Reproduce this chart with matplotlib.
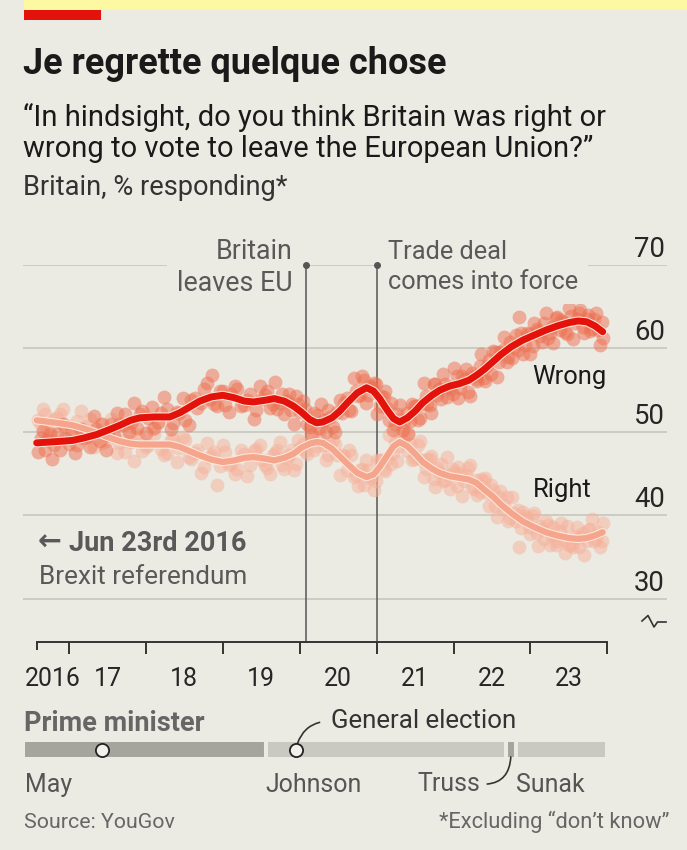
import matplotlib
matplotlib.use('Agg')
import matplotlib.pyplot as plt
from matplotlib import font_manager as fm
from matplotlib import patheffects as pe
from matplotlib.patches import Rectangle
from matplotlib.lines import Line2D
from matplotlib.text import Text

# ---- data (decimal years, % responding) ----
trend_dates = [2016.58, 2016.75, 2016.92, 2017.05, 2017.20, 2017.36, 2017.50, 2017.66, 2017.80, 2017.92,
               2018.10, 2018.31, 2018.44, 2018.57, 2018.70, 2018.85, 2019.00, 2019.15, 2019.28, 2019.40,
               2019.55, 2019.67, 2019.80, 2019.92, 2020.02, 2020.13, 2020.22, 2020.30, 2020.42, 2020.52,
               2020.63, 2020.75, 2020.87, 2020.96, 2021.04, 2021.14, 2021.22, 2021.30, 2021.40, 2021.50,
               2021.60, 2021.72, 2021.82, 2021.95, 2022.08, 2022.20, 2022.30, 2022.40, 2022.51, 2022.62,
               2022.75, 2022.90, 2023.05, 2023.20, 2023.35, 2023.50, 2023.62, 2023.73, 2023.84, 2023.94]
trend_wrong = [48.7, 48.8, 48.9, 49.0, 49.3, 49.7, 50.2, 50.8, 51.4, 51.7,
               51.8, 51.8, 52.3, 53.0, 53.7, 54.2, 54.4, 54.1, 53.7, 53.6,
               53.8, 54.0, 53.7, 53.1, 52.4, 51.5, 51.1, 51.2, 51.7, 52.5,
               53.6, 54.7, 55.3, 54.9, 54.0, 52.6, 51.6, 51.2, 51.7, 52.5,
               53.5, 54.4, 55.0, 55.5, 55.8, 56.2, 56.8, 57.5, 58.4, 59.3,
               60.2, 61.0, 61.6, 62.2, 62.7, 63.1, 63.3, 63.2, 62.7, 62.0]
trend_right = [51.4, 51.2, 51.0, 50.8, 50.4, 49.9, 49.4, 48.9, 48.6, 48.5,
               48.5, 48.5, 48.2, 47.7, 47.2, 46.7, 46.4, 46.6, 46.9, 47.0,
               46.8, 46.6, 46.9, 47.4, 48.1, 48.6, 48.8, 48.7, 48.0, 47.1,
               46.1, 45.1, 44.6, 44.9, 45.8, 47.2, 48.3, 48.8, 48.3, 47.4,
               46.4, 45.6, 45.1, 44.7, 44.5, 44.3, 43.9, 43.1, 42.3, 41.3,
               40.3, 39.3, 38.6, 38.0, 37.6, 37.3, 37.2, 37.3, 37.6, 38.0]

# individual polls, first batch
poll_dates = [2016.60, 2016.66, 2016.72, 2016.78, 2016.85, 2016.92, 2017.00, 2017.08, 2017.15, 2017.24,
              2017.32, 2017.40, 2017.48, 2017.55, 2017.62, 2017.70, 2017.78, 2017.85, 2017.92, 2018.00,
              2018.08, 2018.16, 2018.24, 2018.32, 2018.40, 2018.48, 2018.56, 2018.64, 2018.72, 2018.80,
              2018.86, 2018.93, 2019.00, 2019.08, 2019.16, 2019.24, 2019.32, 2019.40, 2019.48, 2019.55,
              2019.62, 2019.68, 2019.74, 2019.80, 2019.86, 2019.92, 2019.98, 2020.04, 2020.10, 2020.16,
              2020.22, 2020.28, 2020.34, 2020.40, 2020.46, 2020.52, 2020.58, 2020.64, 2020.70, 2020.76,
              2020.81, 2020.86, 2020.91, 2020.96, 2021.01, 2021.06, 2021.11, 2021.16, 2021.21, 2021.26,
              2021.31, 2021.36, 2021.41, 2021.46, 2021.51, 2021.56, 2021.61, 2021.66, 2021.71, 2021.76,
              2021.81, 2021.86, 2021.91, 2021.96, 2022.01, 2022.06, 2022.11, 2022.16, 2022.21, 2022.26,
              2022.31, 2022.36, 2022.41, 2022.46, 2022.51, 2022.56, 2022.61, 2022.66, 2022.71, 2022.76,
              2022.81, 2022.85, 2022.90, 2022.95, 2023.00, 2023.05, 2023.10, 2023.15, 2023.20, 2023.25,
              2023.30, 2023.35, 2023.40, 2023.45, 2023.50, 2023.55, 2023.60, 2023.65, 2023.70, 2023.75,
              2023.80, 2023.85, 2023.90, 2023.94]
poll_wrong = [47.6, 50.1, 49.0, 46.8, 49.8, 51.0, 48.6, 47.5, 50.3, 49.4,
              51.9, 48.9, 47.9, 51.0, 52.3, 50.8, 50.0, 53.5, 52.1, 49.9,
              53.0, 51.2, 54.2, 50.3, 52.4, 54.1, 50.8, 54.1, 53.5, 55.9,
              56.8, 53.1, 54.9, 52.4, 55.5, 53.1, 53.8, 51.6, 55.5, 54.4,
              52.9, 56.0, 53.5, 52.1, 54.5, 50.9, 53.4, 53.7, 50.9, 49.7,
              52.0, 53.3, 50.0, 51.8, 50.0, 53.8, 53.5, 52.6, 56.5, 54.3,
              56.7, 53.5, 55.5, 55.9, 52.1, 54.3, 54.9, 51.4, 50.2, 52.1,
              53.2, 51.2, 49.8, 53.3, 53.1, 51.7, 55.9, 53.4, 52.3, 55.7,
              55.2, 56.9, 54.2, 55.2, 57.7, 54.1, 56.7, 57.5, 54.3, 56.7,
              56.1, 59.4, 56.1, 58.6, 59.7, 56.6, 59.6, 61.4, 59.0, 58.9,
              61.6, 63.8, 59.4, 61.9, 59.4, 63.1, 62.1, 60.8, 64.2, 61.9,
              60.7, 63.8, 63.4, 62.0, 64.8, 61.1, 63.5, 64.6, 61.8, 64.0,
              62.3, 64.2, 60.4, 61.2]
poll_right = [51.4, 52.8, 50.3, 49.0, 51.7, 52.7, 50.7, 49.4, 52.5, 50.7,
              48.2, 51.0, 48.9, 51.6, 47.5, 49.1, 50.2, 46.5, 49.3, 48.2,
              50.4, 51.1, 47.3, 49.0, 46.4, 49.4, 47.0, 47.5, 45.1, 48.7,
              47.3, 43.7, 48.4, 46.1, 45.0, 47.9, 44.7, 47.7, 48.4, 46.0,
              45.0, 47.5, 48.8, 45.6, 47.3, 45.4, 49.1, 48.6, 47.4, 50.9,
              48.3, 50.3, 46.7, 48.4, 48.6, 44.8, 47.1, 47.9, 44.6, 43.5,
              45.6, 46.6, 44.5, 43.0, 46.6, 46.6, 45.3, 49.7, 47.5, 46.5,
              49.8, 48.8, 49.9, 46.6, 47.0, 48.9, 44.6, 46.8, 47.1, 43.4,
              45.2, 44.1, 47.0, 43.2, 45.2, 45.8, 42.3, 44.8, 46.0, 43.2,
              42.4, 44.4, 44.5, 41.1, 43.0, 39.8, 42.9, 41.3, 39.4, 42.2,
              39.3, 36.2, 40.4, 39.7, 37.8, 40.3, 36.3, 38.4, 39.3, 36.5,
              38.6, 37.0, 39.1, 35.5, 36.5, 36.2, 38.6, 37.4, 35.3, 38.3,
              39.6, 37.2, 36.2, 39.1]

# individual polls, second batch
poll_dates_b = [2016.63, 2016.69, 2016.75, 2016.81, 2016.88, 2016.95, 2017.03, 2017.11, 2017.18, 2017.27,
                2017.35, 2017.43, 2017.51, 2017.58, 2017.65, 2017.73, 2017.81, 2017.88, 2017.95, 2018.03,
                2018.11, 2018.19, 2018.27, 2018.35, 2018.43, 2018.51, 2018.59, 2018.67, 2018.75, 2018.83,
                2018.89, 2018.96, 2019.03, 2019.11, 2019.19, 2019.27, 2019.35, 2019.43, 2019.51, 2019.58,
                2019.65, 2019.71, 2019.77, 2019.83, 2019.89, 2019.95, 2020.01, 2020.07, 2020.13, 2020.19,
                2020.25, 2020.31, 2020.37, 2020.43, 2020.49, 2020.55, 2020.61, 2020.67, 2020.73, 2020.79,
                2020.84, 2020.89, 2020.94, 2020.99, 2021.04, 2021.09, 2021.14, 2021.19, 2021.24, 2021.29,
                2021.34, 2021.39, 2021.44, 2021.49, 2021.54, 2021.59, 2021.64, 2021.69, 2021.74, 2021.79,
                2021.84, 2021.89, 2021.94, 2021.99, 2022.04, 2022.09, 2022.14, 2022.19, 2022.24, 2022.29,
                2022.34, 2022.39, 2022.44, 2022.49, 2022.54, 2022.59, 2022.64, 2022.69, 2022.74, 2022.79,
                2022.84, 2022.88, 2022.93, 2022.98, 2023.03, 2023.08, 2023.13, 2023.18, 2023.23, 2023.28,
                2023.33, 2023.38, 2023.43, 2023.48, 2023.53, 2023.58, 2023.63, 2023.68, 2023.73, 2023.78,
                2023.83, 2023.88, 2023.93]
poll_wrong_b = [49.3, 47.9, 49.8, 48.5, 47.8, 49.3, 49.9, 48.5, 49.3, 48.2,
                50.3, 50.9, 49.6, 49.5, 50.9, 52.2, 51.1, 50.5, 52.5, 51.7,
                50.5, 52.3, 52.8, 51.1, 52.3, 51.4, 53.8, 52.9, 55.1, 53.9,
                53.3, 54.9, 53.2, 54.6, 55.1, 53.2, 54.5, 52.6, 53.9, 54.9,
                53.4, 52.7, 54.6, 53.7, 52.6, 54.3, 52.4, 52.7, 50.6, 52.3,
                50.5, 51.4, 52.6, 50.6, 52.4, 52.3, 54.1, 52.5, 54.9, 54.4,
                56.2, 54.4, 55.3, 55.7, 53.1, 54.2, 52.9, 53.5, 51.0, 51.6,
                50.2, 52.3, 51.3, 53.1, 51.4, 53.3, 54.3, 53.2, 55.7, 54.4,
                53.9, 55.8, 55.4, 54.6, 56.7, 55.3, 56.3, 54.8, 57.1, 56.4,
                57.9, 56.5, 57.9, 57.0, 59.6, 58.4, 59.8, 58.4, 60.8, 60.2,
                59.8, 61.9, 60.4, 61.7, 60.3, 62.3, 61.5, 63.0, 61.3, 62.6,
                63.7, 62.2, 63.2, 61.7, 63.9, 63.0, 64.3, 62.6, 63.5, 62.1,
                63.5, 62.2, 63.2]
poll_right_b = [50.8, 52.1, 50.2, 51.5, 52.2, 50.6, 50.0, 51.3, 50.4, 51.5,
                49.3, 48.7, 50.0, 50.1, 48.7, 47.6, 48.8, 49.6, 47.7, 48.5,
                49.8, 48.0, 47.5, 49.2, 48.1, 49.1, 46.8, 47.8, 45.8, 47.0,
                47.6, 45.9, 47.6, 46.2, 45.6, 47.4, 46.1, 48.0, 46.7, 45.7,
                47.2, 47.9, 46.0, 46.9, 47.9, 46.2, 48.1, 47.7, 49.6, 47.8,
                49.4, 48.5, 47.2, 49.1, 47.2, 47.3, 45.5, 47.2, 44.9, 45.4,
                43.7, 45.5, 44.6, 44.1, 46.7, 45.6, 46.8, 46.2, 48.8, 48.3,
                49.8, 47.7, 48.6, 46.8, 48.5, 46.6, 45.6, 46.8, 44.4, 45.7,
                46.2, 44.3, 44.8, 45.6, 43.5, 45.0, 44.1, 45.7, 43.4, 44.3,
                42.8, 44.1, 42.7, 43.7, 41.1, 42.2, 40.8, 42.2, 39.7, 40.3,
                40.6, 38.5, 39.9, 38.6, 39.9, 37.9, 38.7, 37.2, 38.9, 37.7,
                36.5, 38.1, 37.1, 38.7, 36.5, 37.5, 36.2, 37.9, 37.0, 38.4,
                36.9, 38.0, 36.9]

axis_start = 2016.58
year_ticks = [2017, 2018, 2019, 2020, 2021, 2022, 2023, 2024]
year_labels = ['2016', '17', '18', '19', '20', '21', '22', '23']
y_ticks = [30, 40, 50, 60, 70]

brexit_day = 2020.083
trade_deal_day = 2021.0

pm_names = ['May', 'Johnson', 'Truss', 'Sunak']
pm_start = [2016.40, 2019.56, 2022.68, 2022.81]
pm_end = [2019.56, 2022.68, 2022.81, 2024.0]
elections = [2017.43, 2019.95]

# ---- style ----
BG = '#ecebe3'
GRID = '#c3c3bc'
RED = '#e3120b'
SALMON = '#f5a58c'
DARK = '#1a1a1a'
GREY = '#595959'


def font(size, bold=False):
    return fm.FontProperties(family=['Roboto', 'DejaVu Sans'], weight='bold' if bold else 'normal',
                             size=size)


W, H = 687, 850


def fx(px):
    return px / W


def fy(py):
    return 1 - py / H


fig = plt.figure(figsize=(W / 100, H / 100), dpi=100)
fig.patch.set_facecolor(BG)


def fit(t, target, others=()):
    # scale the font so the text is as wide as in the reference
    r = fig.canvas.get_renderer()
    w = Text.get_window_extent(t, r).width
    size = t.get_fontsize() * target / w
    for o in [t] + list(others):
        o.set_fontsize(size)
    return size


# top decoration
fig.add_artist(Rectangle((fx(24), fy(10)), 1 - fx(24), 10 / H, transform=fig.transFigure,
                         facecolor='#fdf8a2', edgecolor='none'))
fig.add_artist(Rectangle((fx(24), fy(20)), 77 / W, 10 / H, transform=fig.transFigure,
                         facecolor=RED, edgecolor='none'))

t = fig.text(fx(23), fy(74), 'Je regrette quelque chose', fontproperties=font(22, True),
             color=DARK, va='baseline')
fit(t, 424)
s1 = fig.text(fx(23), fy(126), '\u201cIn hindsight, do you think Britain was right or',
              fontproperties=font(17.5), color=DARK, va='baseline')
s2 = fig.text(fx(23), fy(157), 'wrong to vote to leave the European Union?\u201d',
              fontproperties=font(17.5), color=DARK, va='baseline')
fit(s1, 580, [s2])
t = fig.text(fx(23), fy(195), 'Britain, % responding*', fontproperties=font(17.5),
             color='#333333', va='baseline')
fit(t, 264)

# ---- main chart ----
ax = fig.add_axes([fx(23), fy(642), (667 - 23) / W, (642 - 265) / H])
ax.set_facecolor('none')
ax.set_xlim(2016.402, 2024.776)
ax.set_ylim(24.85, 70)
for s in ['top', 'right', 'left']:
    ax.spines[s].set_visible(False)
ax.spines['bottom'].set_bounds(axis_start, year_ticks[-1])
ax.spines['bottom'].set_color('#333333')
ax.spines['bottom'].set_linewidth(1.4)
ax.set_yticks([])
ax.set_xticks(year_ticks)
ax.set_xticks([axis_start], minor=True)
ax.set_xticklabels([])
ax.tick_params(axis='x', which='major', length=8.5, width=1.4, color='#333333', direction='out')
ax.tick_params(axis='x', which='minor', length=5.5, width=1.4, color='#333333', direction='out')

bounds = [axis_start] + year_ticks
xlabs = []
for i, lab in enumerate(year_labels):
    mid = (bounds[i] + bounds[i + 1]) / 2
    xlabs.append(ax.annotate(lab, xy=(mid, 0), xycoords=('data', 'axes fraction'), xytext=(0, -32),
                             textcoords='offset points', ha='center', va='baseline',
                             fontproperties=font(17), color='#262626', annotation_clip=False))
fit(xlabs[0], 56, xlabs[1:])

ylabs = []
for v in y_ticks:
    ax.axhline(v, color=GRID, lw=1.1, zorder=1)
    ylabs.append(ax.annotate(str(v), xy=(1, v), xycoords=('axes fraction', 'data'), xytext=(-1.5, 6),
                             textcoords='offset points', ha='right', va='baseline',
                             fontproperties=font(17), color='#262626', annotation_clip=False))
fit(ylabs[-1], 31, ylabs[:-1])

for d in [brexit_day, trade_deal_day]:
    ax.plot([d, d], [24.85, 70], color='#555555', lw=1.1, zorder=1.5, clip_on=False)
    ax.plot([d], [70], 'o', ms=4, color='#555555', zorder=6, clip_on=False)

ev1 = ax.annotate('Britain\nleaves EU', xy=(brexit_day, 70), xytext=(-9.5, -1.5),
                  textcoords='offset points', ha='right', va='center', fontproperties=font(16),
                  color=GREY, zorder=3, annotation_clip=False)
ev2 = ax.annotate('Trade deal\ncomes into force', xy=(trade_deal_day, 70), xytext=(8, -1.5),
                  textcoords='offset points', ha='left', va='center', fontproperties=font(16),
                  color=GREY, zorder=3, annotation_clip=False)
for ev, target in [(ev1, 116), (ev2, 191)]:
    size = fit(ev, target)
    px = size * 100 / 72
    ev.set_linespacing(33 / px)
    ev.set_bbox(dict(boxstyle='square,pad=%.2f' % (10 / px), fc=BG, ec='none'))

for dates, vals in [(poll_dates, poll_right), (poll_dates_b, poll_right_b)]:
    ax.scatter(dates, vals, s=100, color='#f6b19a', alpha=0.5, lw=0, zorder=2)
for dates, vals in [(poll_dates, poll_wrong), (poll_dates_b, poll_wrong_b)]:
    ax.scatter(dates, vals, s=100, color='#ec6f50', alpha=0.5, lw=0, zorder=2.5)
ax.plot(trend_dates, trend_right, color=SALMON, lw=4.5, zorder=4, solid_capstyle='round',
        path_effects=[pe.Stroke(linewidth=6.0, foreground='#fde8de'), pe.Normal()])
ax.plot(trend_dates, trend_wrong, color=RED, lw=5, zorder=5, solid_capstyle='round',
        path_effects=[pe.Stroke(linewidth=6.5, foreground='#fde3d8'), pe.Normal()])

t1 = ax.text(2023.03, 55.7, 'Wrong', fontproperties=font(17), color=DARK, va='baseline', zorder=6)
t2 = ax.text(2023.03, 42.2, 'Right', fontproperties=font(17), color=DARK, va='baseline', zorder=6)
fit(t1, 74, [t2])

a = fig.text(fx(38), fy(551), '\u2190', family='DejaVu Sans', fontweight='bold', fontsize=18,
             color=GREY, va='baseline')
fit(a, 24)
t = fig.text(fx(69), fy(551), 'Jun 23rd 2016', fontproperties=font(17, True), color=GREY, va='baseline')
fit(t, 178)
t = fig.text(fx(39), fy(584), 'Brexit referendum', fontproperties=font(17), color=GREY, va='baseline')
fit(t, 209)

# axis break mark
fig.add_artist(Line2D([fx(642), fx(648), fx(654), fx(657.5), fx(666)],
                      [fy(621), fy(615.5), fy(627), fy(622), fy(622)],
                      transform=fig.transFigure, color='#333333', lw=1.2))

# ---- prime minister strip ----
ax2 = fig.add_axes([fx(23), fy(757), (667 - 23) / W, 15 / H])
ax2.set_xlim(ax.get_xlim())
ax2.set_ylim(0, 1)
ax2.axis('off')
pm_colors = ['#a6a59d', '#cac9c1', '#a6a59d', '#cac9c1']
ax2.barh(0.5, [e - s for s, e in zip(pm_start, pm_end)], left=pm_start, height=1.27,
         color=pm_colors, edgecolor=BG, linewidth=2.9, clip_on=False)
ax2.plot(elections, [0.5] * len(elections), 'o', ms=9.5, mfc='#f1f0ea', mec='#222222',
         mew=1.3, clip_on=False, zorder=5)

t = fig.text(fx(24), fy(731), 'Prime minister', fontproperties=font(16.5, True), color='#666666',
             va='baseline')
fit(t, 180)
ge = ax2.annotate('General election', xy=(elections[1], 0.5), xytext=(25, 20.5),
                  textcoords='offset points', ha='left', va='center', fontproperties=font(16.5),
                  color='#333333',
                  arrowprops=dict(arrowstyle='-', connectionstyle='arc3,rad=0.4', relpos=(0, 0.5),
                                  shrinkA=6, shrinkB=4.8, lw=1.2, color='#333333'),
                  annotation_clip=False)
fit(ge, 185)

label_x = [pm_start[0] + 0.03, pm_start[1], None, pm_start[3]]
pm_texts = []
for name, lx in zip(pm_names, label_x):
    if lx is None:
        continue
    pm_texts.append(ax2.annotate(name, xy=(lx, 0), xytext=(0, -25.5), textcoords='offset points',
                                 ha='left', va='baseline', fontproperties=font(16.5), color='#555555',
                                 annotation_clip=False))
truss_mid = (pm_start[2] + pm_end[2]) / 2
tr = ax2.annotate(pm_names[2], xy=(truss_mid, 0), xytext=(-22, -19.5), textcoords='offset points',
                  ha='right', va='center', fontproperties=font(16.5), color='#555555',
                  arrowprops=dict(arrowstyle='-', connectionstyle='arc3,rad=0.5', relpos=(1, 0.5),
                                  shrinkA=3, shrinkB=0, lw=1.2, color='#333333'),
                  annotation_clip=False)
fit(pm_texts[1], 96, pm_texts[:1] + pm_texts[2:] + [tr])

f1 = fig.text(fx(24), fy(828), 'Source: YouGov', fontproperties=font(14.5), color='#666666',
              va='baseline')
fit(f1, 151)
f2 = fig.text(fx(669), fy(828), '*Excluding \u201cdon\u2019t know\u201d', fontproperties=font(14.5),
              color='#666666', va='baseline', ha='right')
fit(f2, 230)

fig.savefig('out.png', dpi=100, facecolor=BG)
